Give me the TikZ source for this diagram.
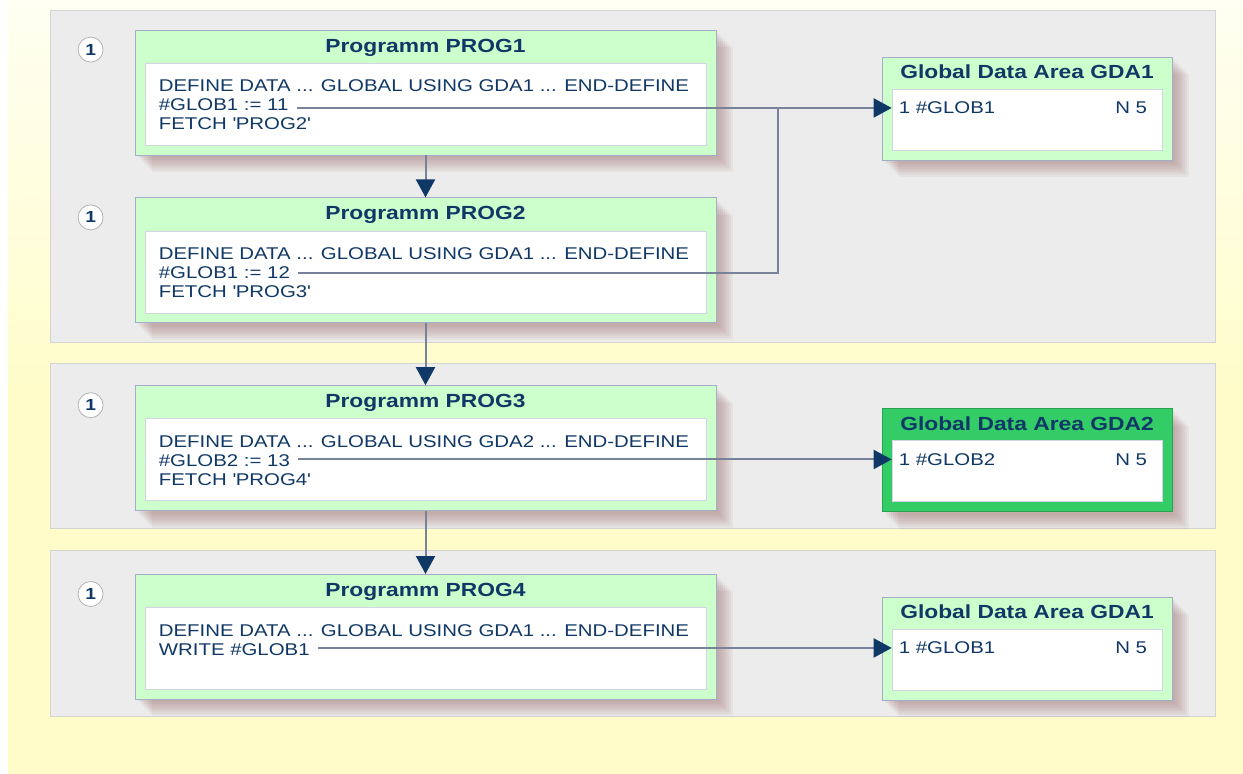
\documentclass[tikz,border=0pt]{standalone}
\usepackage{fontspec}
\setmainfont{Liberation Sans}[FakeStretch=1.2]
\usepackage{xcolor}
\usepackage{tikz}
\usetikzlibrary{
    positioning,
    arrows.meta,
    shadows
}
\definecolor{diagNavy}{RGB}{16, 56, 102}
\definecolor{diagWire}{RGB}{120, 130, 155}
\definecolor{diagYellow}{RGB}{255, 252, 202}
\definecolor{diagCream}{RGB}{255, 255, 242}
\definecolor{diagPanel}{RGB}{236, 236, 236}
\definecolor{diagPanelLine}{RGB}{212, 212, 210}
\definecolor{diagGreen}{RGB}{204, 255, 204}
\definecolor{diagGreenLine}{RGB}{165, 172, 200}
\definecolor{diagGreenDark}{RGB}{51, 204, 102}
\definecolor{diagShadow}{RGB}{150, 100, 95}
\tikzset{
    % grey band behind each group
    panel/.style={
        rectangle,
        draw=diagPanelLine,
        fill=diagPanel,
        line width=0.8pt,
        minimum width=1165pt
    },
    % one faint copy of the box, moved down right
    shadowlayer/.style={
        general shadow={shadow xshift=#1, shadow yshift=-#1, fill=diagShadow, opacity=0.07}
    },
    % stacked copies give a soft edge
    softshadow/.style={
        shadowlayer=3pt, shadowlayer=5pt, shadowlayer=7pt, shadowlayer=9pt,
        shadowlayer=11pt, shadowlayer=13pt, shadowlayer=15pt, shadowlayer=17pt
    },
    % green frame of a program
    progbox/.style={
        rectangle,
        draw=diagGreenLine,
        fill=diagGreen,
        line width=0.8pt,
        minimum width=581pt,
        minimum height=125pt,
        softshadow
    },
    % green frame of a global data area
    gdabox/.style={
        progbox,
        minimum width=290pt,
        minimum height=103pt
    },
    % white source area
    codebox/.style={
        rectangle,
        draw=diagGreenLine!50,
        fill=white,
        line width=0.6pt,
        minimum width=561pt,
        minimum height=82pt
    },
    listbox/.style={
        codebox,
        minimum width=270pt,
        minimum height=61pt
    },
    boxtitle/.style={
        inner sep=0pt,
        text=diagNavy,
        font=\bfseries\fontsize{19}{22}\selectfont
    },
    codeline/.style={
        inner sep=0pt,
        anchor=base west,
        text=diagNavy,
        font=\fontsize{17}{19}\selectfont
    },
    numbadge/.style={
        circle,
        draw=black!30,
        fill=white,
        line width=0.8pt,
        minimum size=25pt,
        inner sep=0pt,
        text=diagNavy,
        font=\bfseries\fontsize{16}{16}\selectfont
    },
    % connectors
    wire/.style={
        draw=diagWire,
        line width=2pt
    },
    link/.style={
        wire,
        -{Triangle[length=18pt, width=19pt, color=diagNavy]}
    },
    feed/.style={
        link,
        shorten <=8pt
    },
    feedwire/.style={
        wire,
        shorten <=8pt
    }
}

\begin{document}
\begin{tikzpicture}[x=1pt, y=-1pt]

    \useasboundingbox (0,0) rectangle (1243,774);

    % background
    \shade[top color=diagCream, bottom color=diagYellow, middle color=diagYellow]
        (8,0) rectangle (1243,773);

    % [1] grey bands
    \node[panel, minimum height=332pt] (panel1) at (632.5,176) {};
    \node[panel, minimum height=165pt] (panel2) at (632.5,445.5) {};
    \node[panel, minimum height=166pt] (panel3) at (632.5,633) {};

    % [2] programs
    \node[progbox] (prog1) at (425.5,92.5) {};
    \node[progbox, below=42pt of prog1] (prog2) {};
    \node[progbox, below=62pt of prog2] (prog3) {};
    \node[progbox, below=63pt of prog3] (prog4) {};

    \node[codebox, above=10pt of prog1.south] (code1) {};
    \node[codebox, above=10pt of prog2.south] (code2) {};
    \node[codebox, above=10pt of prog3.south] (code3) {};
    \node[codebox, above=10pt of prog4.south] (code4) {};

    \node[boxtitle, below=9pt of prog1.north] (title1) {Programm PROG1};
    \node[boxtitle, below=9pt of prog2.north] (title2) {Programm PROG2};
    \node[boxtitle, below=9pt of prog3.north] (title3) {Programm PROG3};
    \node[boxtitle, below=9pt of prog4.north] (title4) {Programm PROG4};

    \node[numbadge] (num1) at ([xshift=-44pt, yshift=-20pt]prog1.north west) {1};
    \node[numbadge] (num2) at ([xshift=-44pt, yshift=-20pt]prog2.north west) {1};
    \node[numbadge] (num3) at ([xshift=-44pt, yshift=-20pt]prog3.north west) {1};
    \node[numbadge] (num4) at ([xshift=-44pt, yshift=-20pt]prog4.north west) {1};

    % PROG1
    \node[codeline] (p1def) at ([xshift=14pt, yshift=-29pt]code1.north west)
        {DEFINE DATA ... GLOBAL USING GDA1 ... END-DEFINE};
    \node[codeline] (p1glob) at ([yshift=-19pt]p1def.base west) {\#GLOB1 := 11};
    \node[codeline] (p1fetch) at ([yshift=-19pt]p1glob.base west)
        {FETCH \textquotesingle PROG2\textquotesingle};

    % PROG2
    \node[codeline] (p2def) at ([xshift=14pt, yshift=-29pt]code2.north west)
        {DEFINE DATA ... GLOBAL USING GDA1 ... END-DEFINE};
    \node[codeline] (p2glob) at ([yshift=-19pt]p2def.base west) {\#GLOB1 := 12};
    \node[codeline] (p2fetch) at ([yshift=-19pt]p2glob.base west)
        {FETCH \textquotesingle PROG3\textquotesingle};

    % PROG3
    \node[codeline] (p3def) at ([xshift=14pt, yshift=-29pt]code3.north west)
        {DEFINE DATA ... GLOBAL USING GDA2 ... END-DEFINE};
    \node[codeline] (p3glob) at ([yshift=-19pt]p3def.base west) {\#GLOB2 := 13};
    \node[codeline] (p3fetch) at ([yshift=-19pt]p3glob.base west)
        {FETCH \textquotesingle PROG4\textquotesingle};

    % PROG4
    \node[codeline] (p4def) at ([xshift=14pt, yshift=-29pt]code4.north west)
        {DEFINE DATA ... GLOBAL USING GDA1 ... END-DEFINE};
    \node[codeline] (p4write) at ([yshift=-19pt]p4def.base west) {WRITE \#GLOB1};

    % [3] global data areas
    \node[gdabox] (gda1) at (1027,108.5) {};
    \node[gdabox, fill=diagGreenDark, draw=diagGreenDark!80!black] (gda2) at (1027,460) {};
    \node[gdabox] (gda3) at (1027,648.5) {};

    \node[listbox, above=10pt of gda1.south] (list1) {};
    \node[listbox, above=10pt of gda2.south] (list2) {};
    \node[listbox, above=10pt of gda3.south] (list3) {};

    \node[boxtitle, below=8pt of gda1.north] (gtitle1) {Global Data Area GDA1};
    \node[boxtitle, below=8pt of gda2.north] (gtitle2) {Global Data Area GDA2};
    \node[boxtitle, below=8pt of gda3.north] (gtitle3) {Global Data Area GDA1};

    \node[codeline] (g1var) at ([xshift=7pt, yshift=-25pt]list1.north west) {1 \#GLOB1};
    \node[codeline, anchor=base east] (g1fmt) at ([xshift=-15pt, yshift=-25pt]list1.north east) {N 5};
    \node[codeline] (g2var) at ([xshift=7pt, yshift=-25pt]list2.north west) {1 \#GLOB2};
    \node[codeline, anchor=base east] (g2fmt) at ([xshift=-15pt, yshift=-25pt]list2.north east) {N 5};
    \node[codeline] (g3var) at ([xshift=7pt, yshift=-25pt]list3.north west) {1 \#GLOB1};
    \node[codeline, anchor=base east] (g3fmt) at ([xshift=-15pt, yshift=-25pt]list3.north east) {N 5};

    % program flow
    \draw[link] (prog1) -- (prog2);
    \draw[link] (prog2) -- (prog3);
    \draw[link] (prog3) -- (prog4);

    % variable references
    \coordinate (joint) at (778,0);
    \draw[feed] (p1glob.east |- g1var.west) -- (g1var.west -| list1.west);
    \draw[feedwire] (p2glob.east) -| (joint |- g1var.west);
    \draw[feed] (p3glob.east |- g2var.west) -- (g2var.west -| list2.west);
    \draw[feed] (p4write.east |- g3var.west) -- (g3var.west -| list3.west);

\end{tikzpicture}
\end{document}
